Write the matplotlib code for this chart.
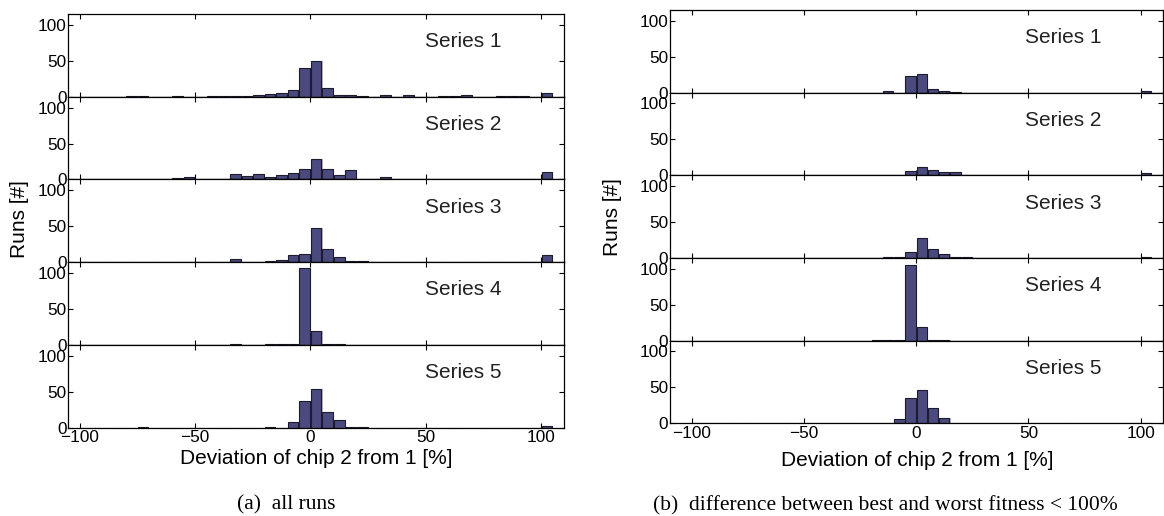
import numpy as np
import matplotlib
matplotlib.use('Agg')
import matplotlib.pyplot as plt

# histogram bin centres (5 % wide bins)
bin_centers = np.arange(-97.5, 105, 5)

series_names = ['Series 1', 'Series 2', 'Series 3', 'Series 4', 'Series 5']

# (a) all runs
all_runs = [
    [0,0,0,0,1,1,0,0,1,0,0,1,1,1,1,2,4,5,9,40,49,12,2,2,1,0,2,0,2,0,0,1,1,2,0,0,1,1,1,0,5],
    [0,0,0,1,1,0,0,1,2,3,1,0,1,7,5,7,3,6,9,14,28,14,6,13,1,0,3,1,1,0,0,0,1,0,1,0,1,0,0,1,10],
    [0,0,1,0,0,1,0,0,0,0,1,0,1,4,0,1,2,3,10,11,48,19,7,2,2,0,1,0,0,0,0,0,1,0,0,1,0,0,0,0,10],
    [0,0,0,0,0,0,0,0,0,0,0,0,0,1,0,0,2,1,2,107,20,2,2,0,0,0,0,0,0,0,0,0,0,0,0,0,0,0,0,0,0],
    [0,0,0,0,0,1,0,0,0,0,0,0,0,0,0,0,1,0,8,37,54,22,11,1,1,0,0,0,0,0,0,0,0,0,0,0,0,0,0,0,3],
]

# (b) difference between best and worst fitness < 100%
good_runs = [
    [0,0,0,0,0,0,0,0,0,0,0,0,0,0,0,0,0,2,0,23,26,5,3,1,0,0,0,0,0,0,0,0,0,0,0,0,0,0,0,0,2],
    [0,0,0,0,0,0,0,0,0,0,0,0,0,0,0,0,0,0,1,6,12,8,4,5,0,0,0,0,0,0,0,0,0,0,0,0,0,0,0,1,3],
    [0,0,0,0,0,0,0,0,0,0,0,0,0,0,0,0,0,2,1,8,28,13,5,1,1,0,0,0,0,0,0,0,0,0,0,0,0,0,0,0,1],
    [0,0,0,0,0,0,0,0,0,0,0,0,0,0,0,0,1,1,1,105,19,1,1,0,0,0,0,0,0,0,0,0,0,0,0,0,0,0,0,0,0],
    [0,0,0,0,0,0,0,0,0,0,0,0,0,0,0,0,0,0,6,35,46,21,7,1,0,0,0,0,0,0,0,0,0,0,0,0,0,0,0,0,1],
]

plt.rcParams['font.family'] = ['Liberation Sans', 'DejaVu Sans']

W, H = 1164, 516
fig = plt.figure(figsize=(W / 100, H / 100), dpi=100)


def draw_panel(data, left, right, top, bottom, xlim):
    # left/right/top/bottom are pixel positions of the stacked axes block
    h = (bottom - top) / 5
    axes = []
    for i, vals in enumerate(data):
        y_top = top + i * h
        ax = fig.add_axes([left / W, 1 - (y_top + h) / H, (right - left) / W, h / H])
        vals = np.array(vals)
        # grey shadow behind each bar, like the original export
        ax.bar(bin_centers + 0.5, vals, width=4.6, color='#b4b4b4', zorder=1)
        ax.bar(bin_centers, vals, width=4.6, color='#4b4a7e',
               edgecolor='#1c1c2c', linewidth=0.8, zorder=2)
        ax.set_xlim(xlim)
        ax.set_ylim(0, 115)
        ax.set_yticks([0, 50, 100])
        ax.set_xticks([-100, -50, 0, 50, 100])
        ax.tick_params(direction='in', top=True, right=True, length=3.5,
                       width=0.8, labelsize=12.4, pad=2)
        ax.tick_params(axis='y', pad=1)
        for sp in ax.spines.values():
            sp.set_linewidth(0.9)
        ax.text(0.72, 0.665, series_names[i], transform=ax.transAxes,
                fontsize=15, va='center', ha='left', color='#222222')
        if i < 4:
            ax.set_xticklabels([])
        else:
            ax.set_xticklabels(['\u2212100', '\u221250', '0', '50', '100'])
        axes.append(ax)
    return axes


draw_panel(all_runs, 68, 564.3, 14, 427.7, (-105, 110))
draw_panel(good_runs, 669.5, 1163, 10, 423.3, (-110, 110))

# axis labels
fig.text(19.5 / W, 1 - 219 / H, 'Runs [#]', rotation=90, fontsize=15,
         ha='center', va='center')
fig.text(613 / W, 1 - 217 / H, 'Runs [#]', rotation=90, fontsize=15,
         ha='center', va='center')
fig.text(316 / W, 1 - 459 / H, 'Deviation of chip 2 from 1 [%]', fontsize=15,
         ha='center', va='center')
fig.text(917 / W, 1 - 460 / H, 'Deviation of chip 2 from 1 [%]', fontsize=15,
         ha='center', va='center')

# sub-figure captions
fig.text(286.5 / W, 1 - 505 / H, '(a)  all runs', fontsize=15.5,
         family='Liberation Serif', ha='center', va='center')
fig.text(885 / W, 1 - 506 / H, '(b)  difference between best and worst fitness < 100%',
         fontsize=15.5, family='Liberation Serif', ha='center', va='center')

fig.savefig('out.png', dpi=100)
plt.close(fig)
